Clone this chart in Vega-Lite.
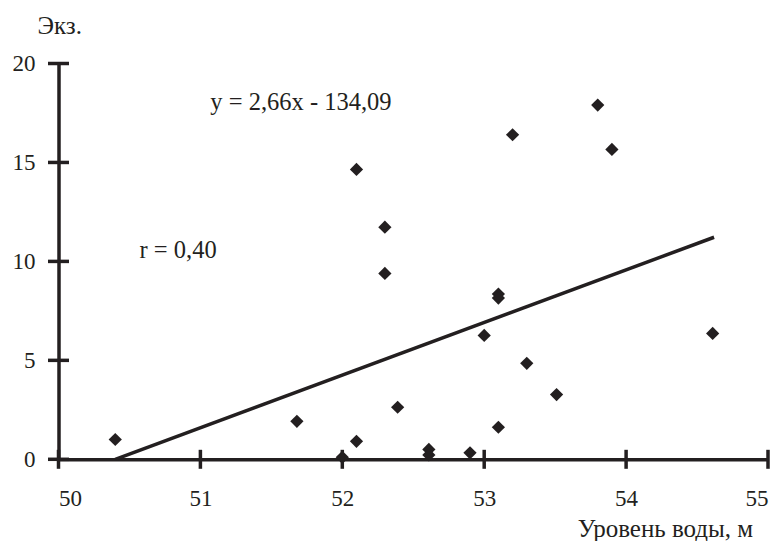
{
  "$schema": "https://vega.github.io/schema/vega-lite/v6.json",
  "autosize": {"type": "none"},
  "width": 709.5,
  "height": 395.8,
  "padding": {"left": 58.5, "top": 63.5, "right": 14, "bottom": 81.7},
  "background": "white",
  "config": {
    "view": {"stroke": null},
    "font": "Liberation Serif",
    "axis": {
      "domainColor": "#231f20",
      "domainWidth": 3.5,
      "ticks": false,
      "tickSize": 0,
      "grid": false,
      "labelFont": "Liberation Serif",
      "labelFontSize": 23,
      "labelColor": "#231f20",
      "titleFont": "Liberation Serif",
      "titleFontSize": 25,
      "titleFontWeight": "normal",
      "titleColor": "#231f20"
    }
  },
  "datasets": {
    "points": [
      {"level": 50.4, "count": 1.0},
      {"level": 51.68, "count": 1.92},
      {"level": 52.0, "count": 0.1},
      {"level": 52.1, "count": 0.91},
      {"level": 52.1, "count": 14.65},
      {"level": 52.3, "count": 11.73},
      {"level": 52.3, "count": 9.39},
      {"level": 52.39, "count": 2.63},
      {"level": 52.61, "count": 0.5},
      {"level": 52.61, "count": 0.22},
      {"level": 52.9, "count": 0.33},
      {"level": 53.0, "count": 6.26},
      {"level": 53.1, "count": 8.35},
      {"level": 53.1, "count": 8.15},
      {"level": 53.1, "count": 1.62},
      {"level": 53.2, "count": 16.4},
      {"level": 53.3, "count": 4.85},
      {"level": 53.51, "count": 3.27},
      {"level": 53.8, "count": 17.9},
      {"level": 53.9, "count": 15.66},
      {"level": 54.61, "count": 6.36}
    ],
    "fit": [
      {"level": 50.4, "count": 0.0},
      {"level": 54.62, "count": 11.22}
    ],
    "xticks": [
      {"v": 50, "base": 0}, {"v": 51, "base": 0}, {"v": 52, "base": 0},
      {"v": 53, "base": 0}, {"v": 54, "base": 0}, {"v": 55, "base": 0}
    ],
    "yticks": [
      {"v": 0, "base": 50}, {"v": 5, "base": 50}, {"v": 10, "base": 50},
      {"v": 15, "base": 50}, {"v": 20, "base": 50}
    ],
    "notes": [
      {"label": "y = 2,66x - 134,09", "level": 51.07, "count": 17.64},
      {"label": "r = 0,40", "level": 50.571, "count": 10.17}
    ]
  },
  "layer": [
    {
      "data": {"name": "points"},
      "mark": {"type": "point", "shape": "diamond", "filled": true, "size": 175, "color": "#231f20", "opacity": 1},
      "encoding": {
        "x": {
          "field": "level", "type": "quantitative",
          "scale": {"domain": [50, 55], "nice": false, "zero": false},
          "axis": {
            "values": [50, 51, 52, 53, 54, 55],
            "format": "d",
            "labelPadding": 28,
            "title": "Уровень воды, м",
            "titleX": 694.2,
            "titleY": 77.2,
            "titleAlign": "right",
            "titleBaseline": "alphabetic"
          }
        },
        "y": {
          "field": "count", "type": "quantitative",
          "scale": {"domain": [0, 20], "nice": false},
          "axis": {
            "values": [0, 5, 10, 15, 20],
            "format": "d",
            "labelPadding": 23.5,
            "title": "Экз.",
            "titleAngle": 0,
            "titleX": -21.5,
            "titleY": -30.5,
            "titleAlign": "left",
            "titleBaseline": "alphabetic"
          }
        }
      }
    },
    {
      "data": {"name": "fit"},
      "mark": {"type": "line", "color": "#231f20", "strokeWidth": 3.5},
      "encoding": {
        "x": {"field": "level", "type": "quantitative"},
        "y": {"field": "count", "type": "quantitative"}
      }
    },
    {
      "data": {"name": "xticks"},
      "mark": {"type": "tick", "orient": "vertical", "size": 19, "thickness": 3.5, "color": "#231f20", "opacity": 1},
      "encoding": {
        "x": {"field": "v", "type": "quantitative"},
        "y": {"field": "base", "type": "quantitative"}
      }
    },
    {
      "data": {"name": "yticks"},
      "mark": {"type": "tick", "orient": "horizontal", "size": 21, "thickness": 3.5, "color": "#231f20", "opacity": 1},
      "encoding": {
        "x": {"field": "base", "type": "quantitative"},
        "y": {"field": "v", "type": "quantitative"}
      }
    },
    {
      "data": {"name": "notes"},
      "mark": {"type": "text", "align": "left", "baseline": "alphabetic", "font": "Liberation Serif", "fontSize": 24.5, "color": "#231f20"},
      "encoding": {
        "x": {"field": "level", "type": "quantitative"},
        "y": {"field": "count", "type": "quantitative"},
        "text": {"field": "label"}
      }
    }
  ]
}
